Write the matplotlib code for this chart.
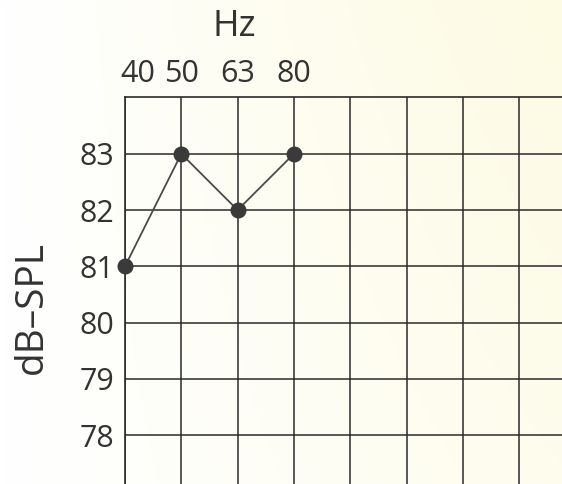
import matplotlib
matplotlib.use("Agg")
import matplotlib.pyplot as plt
import matplotlib.transforms as mtransforms
from matplotlib.colors import LinearSegmentedColormap
import numpy as np

# Data
freq_labels = ["40", "50", "63", "80"]
spl_values = [81, 83, 82, 83]
y_ticks = [78, 79, 80, 81, 82, 83]
n_columns = 8  # number of vertical grid lines incl. left edge

plt.rcParams['font.family'] = ['Open Sans', 'DejaVu Sans']

W, H = 562, 484
fig = plt.figure(figsize=(W / 100, H / 100), dpi=100)
fig.patch.set_facecolor('white')

# subtle paper background gradient
bg = fig.add_axes([0, 0, 1, 1], zorder=-10)
gx = np.linspace(0, 1, 256)[None, :]
gy = np.linspace(1, 0, 256)[:, None]
grad = np.clip(gx * (0.6 + 0.4 * gy), 0, 1)
cmap = LinearSegmentedColormap.from_list('paper', ['#ffffff', '#fefdf0', '#fdfbe3'])
bg.imshow(grad, aspect='auto', cmap=cmap, extent=[0, 1, 0, 1])
bg.axis('off')

left = 125 / W
top = 97 / H
ax = fig.add_axes([left, 0, 1 - left, 1 - top])
ax.set_facecolor('none')

x = np.arange(len(spl_values))
ax.plot(x, spl_values, color='#4a4a4a', lw=1.3, zorder=3, clip_on=False)
ax.plot(x, spl_values, 'o', color='#3a3a3a', ms=10.5, zorder=4, clip_on=False)

ax.set_xlim(0, (W - 125) / 56.3)
ax.set_ylim(77.13, 84 + 0.01)

ax.set_xticks(range(n_columns))
ax.set_xticklabels(freq_labels + [""] * (n_columns - len(freq_labels)))
ax.xaxis.tick_top()
ax.tick_params(axis='x', length=0, pad=6, labelsize=22, colors='#333333')
ax.set_yticks(y_ticks)
ax.tick_params(axis='y', length=0, pad=8, labelsize=22, colors='#333333')

# first label sits slightly right of the left edge
offset = mtransforms.ScaledTranslation(13 / 100, 0, fig.dpi_scale_trans)
ax.get_xticklabels()[0].set_transform(ax.get_xticklabels()[0].get_transform() + offset)

ax.grid(True, color='#2a2a2a', lw=1.1)
for side in ['right', 'bottom']:
    ax.spines[side].set_visible(False)
for side in ['left', 'top']:
    ax.spines[side].set_color('#2a2a2a')
    ax.spines[side].set_linewidth(1.2)

fig.text(234 / W, 1 - 27 / H, 'Hz', ha='center', va='center', fontsize=26, color='#333333')
fig.text(32 / W, 1 - 307 / H, 'dB\u2013SPL', rotation=90, ha='center', va='center',
         fontsize=28, color='#333333')

fig.savefig('out.png', dpi=100, facecolor=fig.get_facecolor())
